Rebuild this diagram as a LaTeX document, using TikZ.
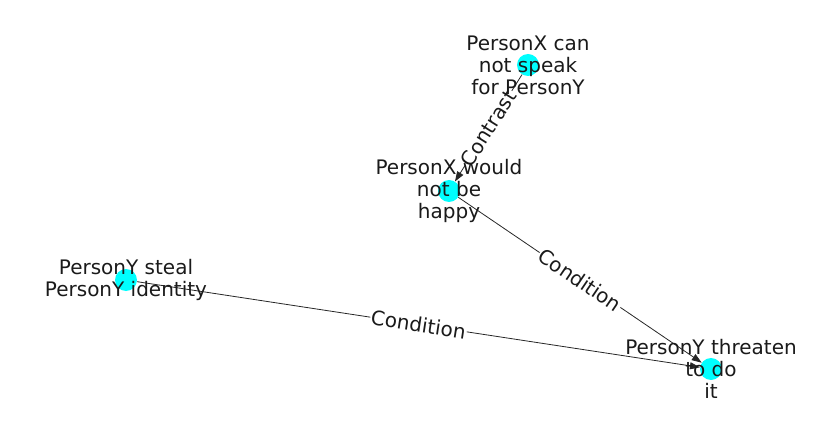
\documentclass[tikz,border=0pt]{standalone}
\usepackage{fontspec}
\setmainfont{DejaVu Sans}
\usetikzlibrary{arrows.meta}
\definecolor{nodecyan}{HTML}{00FFFF}
\definecolor{txt}{HTML}{1A1A1A}
\tikzset{
  dot/.style={circle, fill=nodecyan, draw=none, minimum size=22pt, inner sep=0pt},
  lbl/.style={align=center, text=txt, font=\fontsize{20}{22}\selectfont, inner sep=0pt},
  edge/.style={draw=black!85, line width=0.8pt, -{Triangle[length=10pt,width=7pt]}},
  elbl/.style={fill=white, text=txt, font=\fontsize{20}{22}\selectfont, inner sep=1pt, sloped}
}
\begin{document}
\begin{tikzpicture}[x=1pt,y=1pt]
\useasboundingbox (0,0) rectangle (837,434);
\node[dot] (a) at (528,369) {};
\node[dot] (b) at (449,243) {};
\node[dot] (c) at (126,154) {};
\node[dot] (d) at (711,65) {};
\draw[edge] (a) -- node[elbl] {Contrast} (b);
\draw[edge] (b) -- node[elbl] {Condition} (d);
\draw[edge] (c) -- node[elbl] {Condition} (d);
\node[lbl] (ta) at (a) {PersonX can\\not speak\\for PersonY};
\node[lbl] (tb) at (b) {PersonX would\\not be\\happy};
\node[lbl] (tc) at (c) {PersonY steal\\PersonY identity};
\node[lbl] (td) at (d) {PersonY threaten\\to do\\it};
\end{tikzpicture}
\end{document}
